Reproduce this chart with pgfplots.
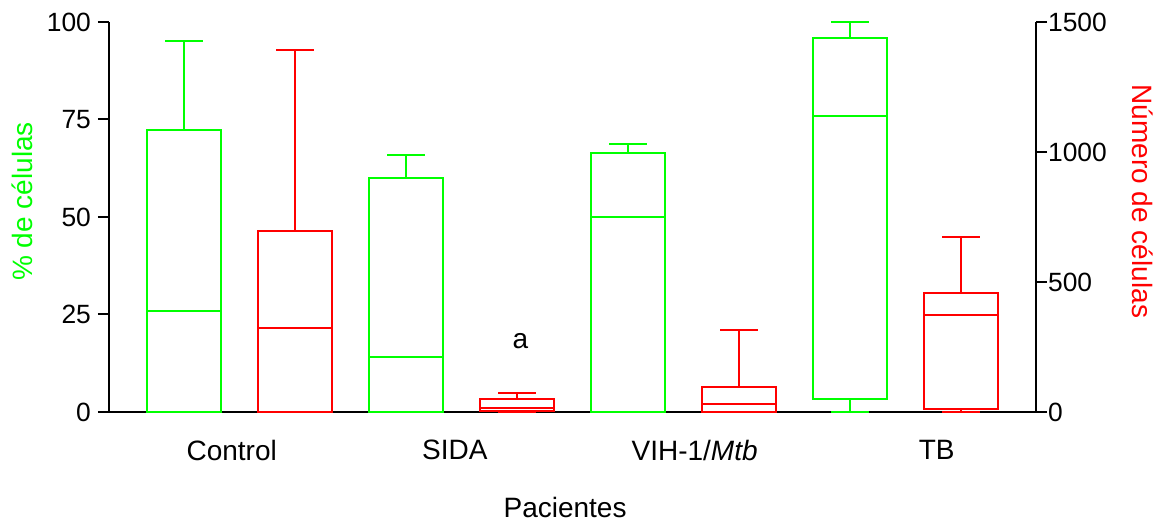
\documentclass[border=0pt]{standalone}
\usepackage{fontspec}
\setmainfont{Liberation Sans}
\usepackage{pgfplots}
\pgfplotsset{compat=1.18}
\usepgfplotslibrary{statistics}
\definecolor{cgreen}{RGB}{0,255,0}
\definecolor{cred}{RGB}{255,0,0}
\begin{document}
\begin{tikzpicture}[font=\fontsize{14}{16}\selectfont]
\pgfplotsset{
  common/.style={
    scale only axis, width=463.5pt, height=195pt,
    xmin=0.325, xmax=8.675, clip=false,
    tick align=outside, major tick length=5.5pt,
    axis line style={-, line width=1pt},
    tick style={line width=1pt, black},
    yticklabel style={font=\fontsize{13.2}{15}\selectfont},
    /pgf/number format/assume math mode=true,
    /pgf/number format/1000 sep={},
    boxplot/draw direction=y, boxplot/box extend=0.667, boxplot/whisker extend=0.34,
  },
}
\begin{axis}[common, name=ax,
  ymin=0, ymax=100,
  axis x line*=bottom, axis y line*=left,
  xtick={1.43,3.44,5.60,7.78},
  xticklabels={Control,SIDA,VIH-1/\textit{Mtb},TB},
  x tick style={draw=none},
  xticklabel style={yshift=-5pt},
  ytick={0,25,50,75,100},
  ylabel={\% de células},
  ylabel style={color=cgreen, at={(rel axis cs:-0.0939,0.54)}, anchor=center},
  xlabel={Pacientes},
  xlabel style={at={(rel axis cs:0.492,-0.244)}, anchor=center},
]
\addplot[cgreen, line width=1pt, boxplot prepared={lower whisker=0, lower quartile=0, median=26, upper quartile=72.4, upper whisker=95, draw position=1}] coordinates {};
\addplot[cgreen, line width=1pt, boxplot prepared={lower whisker=0, lower quartile=0, median=14, upper quartile=60, upper whisker=66, draw position=3}] coordinates {};
\addplot[cgreen, line width=1pt, boxplot prepared={lower whisker=0, lower quartile=0, median=50, upper quartile=66.4, upper whisker=68.7, draw position=5}] coordinates {};
\addplot[cgreen, line width=1pt, boxplot prepared={lower whisker=0, lower quartile=3.4, median=75.9, upper quartile=96, upper whisker=100, draw position=7}] coordinates {};
\node at (axis cs:4.03,18.2) {a};
\end{axis}
\begin{axis}[common,
  ymin=0, ymax=1500,
  axis x line=none, axis y line*=right,
  ytick={0,500,1000,1500},
  yticklabel style={anchor=west, xshift=-3pt},
  ylabel={Número de células},
  ylabel style={color=cred, at={(rel axis cs:1.115,0.54)}, anchor=center, rotate=180},
]
\addplot[cred, line width=1pt, boxplot prepared={lower whisker=0, lower quartile=0, median=322, upper quartile=696, upper whisker=1393, draw position=2}] coordinates {};
\addplot[cred, line width=1pt, boxplot prepared={lower whisker=0, lower quartile=4, median=14, upper quartile=50, upper whisker=74, draw position=4}] coordinates {};
\addplot[cred, line width=1pt, boxplot prepared={lower whisker=0, lower quartile=0, median=31, upper quartile=96, upper whisker=315, draw position=6}] coordinates {};
\addplot[cred, line width=1pt, boxplot prepared={lower whisker=0, lower quartile=12, median=374, upper quartile=458, upper whisker=673, draw position=8}] coordinates {};
\end{axis}
\path ([xshift=-54.5pt,yshift=-56pt]ax.south west) rectangle ([xshift=62pt,yshift=11pt]ax.north east);
\end{tikzpicture}
\end{document}
